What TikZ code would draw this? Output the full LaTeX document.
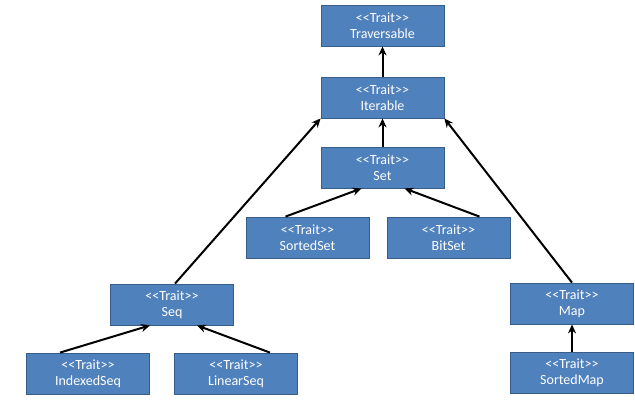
\documentclass[tikz,border=0pt]{standalone}
\usepackage{fontspec}
\setmainfont{Carlito}
\usetikzlibrary{arrows.meta}

\newcommand{\stereo}{<\kern0pt<Trait>\kern0pt>}
\tikzset{
  trait/.style={draw=traitedge,fill=traitfill,text=white,line width=0.8pt,
    minimum width=123pt,minimum height=41pt,align=center,inner sep=1pt,
    font=\fontsize{14}{16}\selectfont},
  isa/.style={-{Stealth[length=9pt,width=8pt]},line width=2pt}
}
\definecolor{traitfill}{HTML}{4F81BD}
\definecolor{traitedge}{HTML}{385D8A}

\begin{document}
\begin{tikzpicture}[x=1pt,y=-1pt]
\useasboundingbox (0,0) rectangle (635,401);
% top of the hierarchy
\node[trait] (trav) at (382.5,25.5) {\stereo\\Traversable};
\node[trait] (iter) at (382.5,97.5) {\stereo\\Iterable};
\node[trait] (set) at (382.5,167.5) {\stereo\\Set};
\node[trait] (sset) at (307.5,237.5) {\stereo\\SortedSet};
\node[trait] (bset) at (448.5,237.5) {\stereo\\BitSet};

% sequences
\node[trait] (seq) at (172,304.5) {\stereo\\Seq};
\node[trait] (iseq) at (88,373.5) {\stereo\\IndexedSeq};
\node[trait] (lseq) at (236,373.5) {\stereo\\LinearSeq};

% maps
\node[trait] (map) at (572,303.5) {\stereo\\Map};
\node[trait] (smap) at (572,372.5) {\stereo\\SortedMap};

% inheritance arrows
\draw[isa] (iter) -- (trav);
\draw[isa] (set) -- (iter);
\draw[isa] ([xshift=3pt]seq.north) -- (iter.south west);
\draw[isa] (map.north) -- (iter.south east);
\draw[isa] ([xshift=-22pt]sset.north) -- ([xshift=-21pt]set.south);
\draw[isa] ([xshift=31pt]bset.north) -- ([xshift=22pt]set.south);
\draw[isa] ([xshift=-28pt]iseq.north) -- ([xshift=-22pt]seq.south);
\draw[isa] ([xshift=34pt]lseq.north) -- ([xshift=25pt]seq.south);
\draw[isa] (smap) -- (map);
\end{tikzpicture}
\end{document}
